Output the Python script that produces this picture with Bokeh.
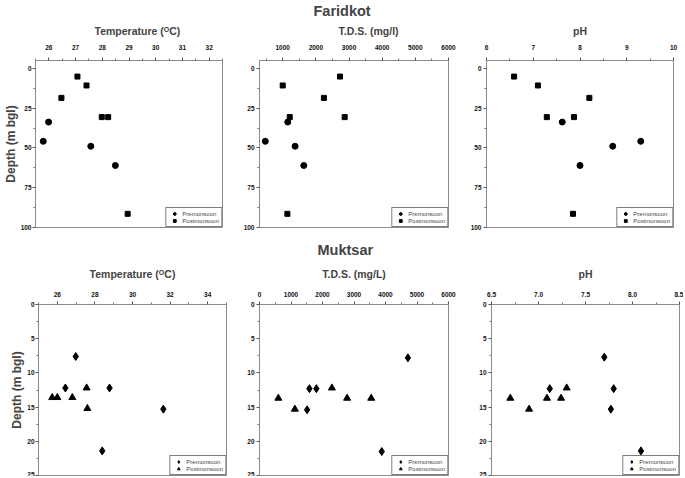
from bokeh.plotting import figure
from bokeh.models import Range1d, FixedTicker, Legend, LegendItem, Title, PrintfTickFormatter
from bokeh.layouts import row, column
from bokeh.embed import file_html
from bokeh.resources import INLINE

# ---------------- DATA ----------------
# Faridkot
fk_pre_depth = [33.7, 45.8, 48.9, 61.0]
fk_post_depth = [5.1, 10.7, 18.5, 30.6, 30.6, 91.4]
fk_temp_pre = [25.99, 25.79, 27.57, 28.49]
fk_temp_post = [27.07, 27.41, 26.47, 27.98, 28.22, 28.95]
fk_tds_pre = [1152, 475, 1374, 1636]
fk_tds_post = [2727, 1000, 2242, 1212, 2869, 1141]
fk_ph_pre = [7.62, 9.30, 8.70, 8.00]
fk_ph_post = [6.59, 7.10, 8.20, 7.29, 7.87, 7.85]

# Muktsar
mk_temp_pre = [26.98, 26.43, 28.78, 31.64, 28.39]
mk_temp_pre_depth = [7.6, 12.2, 12.2, 15.3, 21.4]
mk_temp_post = [25.73, 26.00, 26.80, 27.56, 27.60]
mk_temp_post_depth = [13.6, 13.6, 13.6, 12.2, 15.2]
mk_tds_pre = [4711, 1584, 1805, 1511, 3882]
mk_tds_pre_depth = [7.8, 12.3, 12.3, 15.4, 21.5]
mk_tds_post = [598, 1123, 2298, 2781, 3547]
mk_tds_post_depth = [13.7, 15.3, 12.2, 13.7, 13.7]
mk_ph_pre = [7.70, 7.12, 7.80, 7.77, 8.09]
mk_ph_pre_depth = [7.7, 12.3, 12.3, 15.3, 21.4]
mk_ph_post = [6.70, 6.90, 7.09, 7.24, 7.30]
mk_ph_post_depth = [13.7, 15.3, 13.7, 13.7, 12.2]

fk_depth_ticks = [0, 25, 50, 75, 100]
fk_depth_minor = [12.5, 37.5, 62.5, 87.5]
mk_depth_ticks = [0, 5, 10, 15, 20, 25]
mk_depth_minor = [2.5, 7.5, 12.5, 17.5, 22.5]

legend_labels = ["Premonsoon", "Postmonsoon"]
site_names = ["Faridkot", "Muktsar"]

FONT = "Liberation Sans"


def panel(width, height, borders, xr, yr, xticks, xminor, yticks, yminor, title,
          pre_x, pre_y, post_x, post_y, pre_marker, post_marker, pre_size, post_size,
          ylabel=None, title_left=None, xfmt=None, label_standoff=5, title_standoff=10,
          site=" ", site_left=None):
    l, r, t, b = borders
    p = figure(width=width, height=height, x_range=Range1d(*xr), y_range=Range1d(*yr),
               x_axis_location="above", y_axis_location="left", title=None,
               toolbar_location=None, output_backend="svg",
               min_border_left=l, min_border_right=r, min_border_top=t, min_border_bottom=b)
    p.grid.visible = False
    p.outline_line_color = "#8c8c8c"
    p.outline_line_width = 1
    p.background_fill_color = "white"
    p.border_fill_color = "white"

    t1 = Title(text=title, text_font=FONT, text_font_size="10.5px", text_font_style="bold",
               standoff=title_standoff)
    if title_left is None:
        t1.align = "center"
    else:
        t1.align = "left"
        t1.offset = title_left
    p.add_layout(t1, "above")

    t2 = Title(text=site, text_font=FONT, text_font_size="14.5px", text_font_style="bold",
               standoff=0)
    if site_left is None:
        t2.align = "center"
    else:
        t2.align = "left"
        t2.offset = site_left
    p.add_layout(t2, "above")

    p.xaxis.ticker = FixedTicker(ticks=xticks, minor_ticks=xminor)
    p.yaxis.ticker = FixedTicker(ticks=yticks, minor_ticks=yminor)
    if xfmt:
        p.xaxis.formatter = PrintfTickFormatter(format=xfmt)
    for ax in (p.xaxis[0], p.yaxis[0]):
        ax.major_tick_in = 0
        ax.major_tick_out = 3
        ax.minor_tick_in = 0
        ax.minor_tick_out = 2
        ax.axis_line_color = "#8c8c8c"
        ax.major_tick_line_color = "#555555"
        ax.minor_tick_line_color = "#777777"
        ax.major_label_text_font = FONT
        ax.major_label_text_font_size = "6.5px"
        ax.major_label_text_font_style = "bold"
        ax.major_label_text_color = "#111111"
        ax.major_label_standoff = 2
    p.xaxis.major_label_standoff = label_standoff
    if ylabel:
        p.yaxis.major_label_standoff = 1
        p.yaxis.axis_label = ylabel
        p.yaxis.axis_label_text_font = FONT
        p.yaxis.axis_label_text_font_size = "12px"
        p.yaxis.axis_label_text_font_style = "bold"
        p.yaxis.axis_label_standoff = 0

    r1 = p.scatter(pre_x, pre_y, marker=pre_marker, size=pre_size, color="black")
    r2 = p.scatter(post_x, post_y, marker=post_marker, size=post_size, color="black")
    leg = Legend(items=[LegendItem(label=legend_labels[0], renderers=[r1]),
                        LegendItem(label=legend_labels[1], renderers=[r2])],
                 location="bottom_right")
    leg.margin = 0
    leg.padding = 2
    leg.spacing = 0
    leg.glyph_width = 12
    leg.glyph_height = 7
    leg.label_height = 7
    leg.label_standoff = 2
    leg.label_text_font = FONT
    leg.label_text_font_size = "6px"
    leg.label_text_color = "#444444"
    leg.border_line_color = "black"
    leg.border_line_width = 1.2
    leg.background_fill_alpha = 1
    p.add_layout(leg, "center")
    return p


H1 = 236
H2 = 240

f1 = panel(229, H1, (34, 7, 59, 9), (25.5, 32.5), (100, -5), [26, 27, 28, 29, 30, 31, 32],
           [25.5, 26.5, 27.5, 28.5, 29.5, 30.5, 31.5, 32.5], fk_depth_ticks, fk_depth_minor,
           "Temperature (ᴼC)", fk_temp_pre, fk_pre_depth, fk_temp_post, fk_post_depth,
           "circle", "square", 6, 5, ylabel="Depth (m bgl)", title_left=59,
           label_standoff=8, title_standoff=9)
f2 = panel(229, H1, (30, 10, 59, 9), (300, 6000), (100, -5), [1000, 2000, 3000, 4000, 5000, 6000],
           [500, 1500, 2500, 3500, 4500, 5500], fk_depth_ticks, fk_depth_minor,
           "T.D.S. (mg/l)", fk_tds_pre, fk_pre_depth, fk_tds_post, fk_post_depth,
           "circle", "square", 6, 5, title_left=79, label_standoff=8, title_standoff=9,
           site=site_names[0], site_left=54)
f3 = panel(225, H1, (28, 10, 59, 9), (6, 10), (100, -5), [6, 7, 8, 9, 10],
           [6.5, 7.5, 8.5, 9.5], fk_depth_ticks, fk_depth_minor,
           "pH", fk_ph_pre, fk_pre_depth, fk_ph_post, fk_post_depth,
           "circle", "square", 6, 5, label_standoff=8, title_standoff=9)

f4 = panel(229, H2, (38, 3, 68, 1), (25, 35), (25, 0), [26, 28, 30, 32, 34],
           [25, 27, 29, 31, 33, 35], mk_depth_ticks, mk_depth_minor,
           "Temperature (ᴼC)", mk_temp_pre, mk_temp_pre_depth, mk_temp_post, mk_temp_post_depth,
           "diamond", "triangle", 8, 7, ylabel="Depth (m bgl)", label_standoff=5, title_standoff=17)
f5 = panel(229, H2, (30, 10, 68, 1), (0, 6000), (25, 0), [0, 1000, 2000, 3000, 4000, 5000, 6000],
           [500, 1500, 2500, 3500, 4500, 5500], mk_depth_ticks, mk_depth_minor,
           "T.D.S. (mg/L)", mk_tds_pre, mk_tds_pre_depth, mk_tds_post, mk_tds_post_depth,
           "diamond", "triangle", 8, 7, label_standoff=5, title_standoff=17,
           site=site_names[1], site_left=58)
f6 = panel(225, H2, (33, 4, 68, 1), (6.5, 8.5), (25, 0), [6.5, 7.0, 7.5, 8.0, 8.5],
           [6.75, 7.25, 7.75, 8.25], mk_depth_ticks, mk_depth_minor,
           "pH", mk_ph_pre, mk_ph_pre_depth, mk_ph_post, mk_ph_post_depth,
           "diamond", "triangle", 8, 7, xfmt="%.1f", label_standoff=5, title_standoff=17)

layout = column(row(f1, f2, f3), row(f4, f5, f6))

open("out.html", "w").write(file_html(layout, INLINE))
